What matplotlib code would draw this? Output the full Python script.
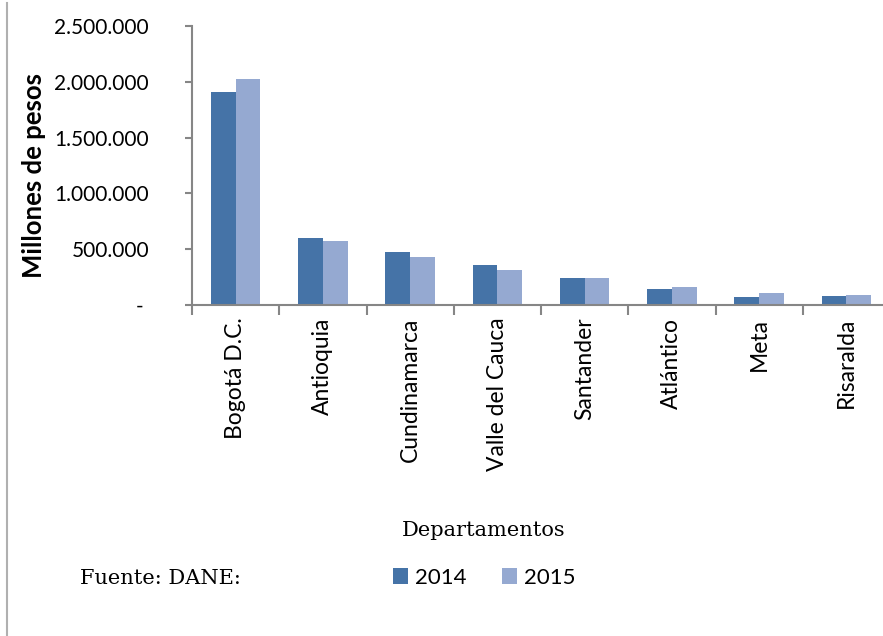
import matplotlib
matplotlib.use("Agg")
import matplotlib.pyplot as plt
from matplotlib.lines import Line2D
import numpy as np

departamentos = ["Bogotá D.C.", "Antioquia", "Cundinamarca", "Valle del Cauca",
                 "Santander", "Atlántico", "Meta", "Risaralda"]
valores_2014 = [1910000, 600000, 478000, 358000, 245000, 143000, 69000, 81000]
valores_2015 = [2025000, 576000, 427000, 314000, 239000, 164000, 105000, 92000]
y_ticks = [0, 500000, 1000000, 1500000, 2000000, 2500000]
y_labels = ["- ", "500.000", "1.000.000", "1.500.000", "2.000.000", "2.500.000"]

c14 = "#4573a7"
c15 = "#95a9d1"
gris = "#868686"

W, H = 883, 636
fig = plt.figure(figsize=(W / 100, H / 100), dpi=100)
ax = fig.add_axes([192 / W, 1 - 305 / H, (890 - 192) / W, (305 - 26) / H])

x = np.arange(len(departamentos))
bw = 0.283
ax.bar(x - bw / 2, valores_2014, bw, color=c14, label="2014")
ax.bar(x + bw / 2, valores_2015, bw, color=c15, label="2015")

ax.set_xlim(-0.5, len(departamentos) - 0.5)
ax.set_ylim(0, 2500000)

for s in ["top", "right"]:
    ax.spines[s].set_visible(False)
for s in ["left", "bottom"]:
    ax.spines[s].set_color(gris)
    ax.spines[s].set_linewidth(1.5)

ax.set_yticks(y_ticks)
ax.set_yticklabels(y_labels, fontfamily="Lato", fontsize=15)
ax.tick_params(axis="y", length=5, width=1.5, color=gris, pad=26)

# category boundaries get the tick marks, names sit in between
ax.set_xticks(np.arange(-0.5, len(departamentos)), minor=False)
ax.set_xticklabels([])
ax.tick_params(axis="x", which="major", length=7, width=1.5, color=gris)
ax.set_xticks(x, minor=True)
ax.set_xticklabels(departamentos, minor=True, rotation=90, fontfamily="Lato",
                   fontsize=16.5, va="top", ha="center")
ax.tick_params(axis="x", which="minor", length=0, pad=9)

fig.text(34 / W, 1 - 175 / H, "Millones de pesos", rotation=90, ha="center",
         va="center", fontfamily="Lato", fontweight="bold", fontsize=18.5)
fig.text(484 / W, 1 - 530 / H, "Departamentos", ha="center", va="center",
         fontfamily="DejaVu Serif", fontsize=15)
fig.text(80 / W, 1 - 578 / H, "Fuente: DANE:", ha="left", va="center",
         fontfamily="DejaVu Serif", fontsize=15)

fig.legend(loc="center", bbox_to_anchor=(484 / W, 1 - 578 / H), ncol=2,
           frameon=False, prop={"family": "Lato", "size": 16},
           handlelength=0.7, handleheight=0.7, handletextpad=0.3,
           columnspacing=1.6)

fig.add_artist(Line2D([7.5 / W, 7.5 / W], [0, 1 - 3 / H], color="#b0b0b0",
                      linewidth=1.5, transform=fig.transFigure))

fig.savefig("out.png", dpi=100)
